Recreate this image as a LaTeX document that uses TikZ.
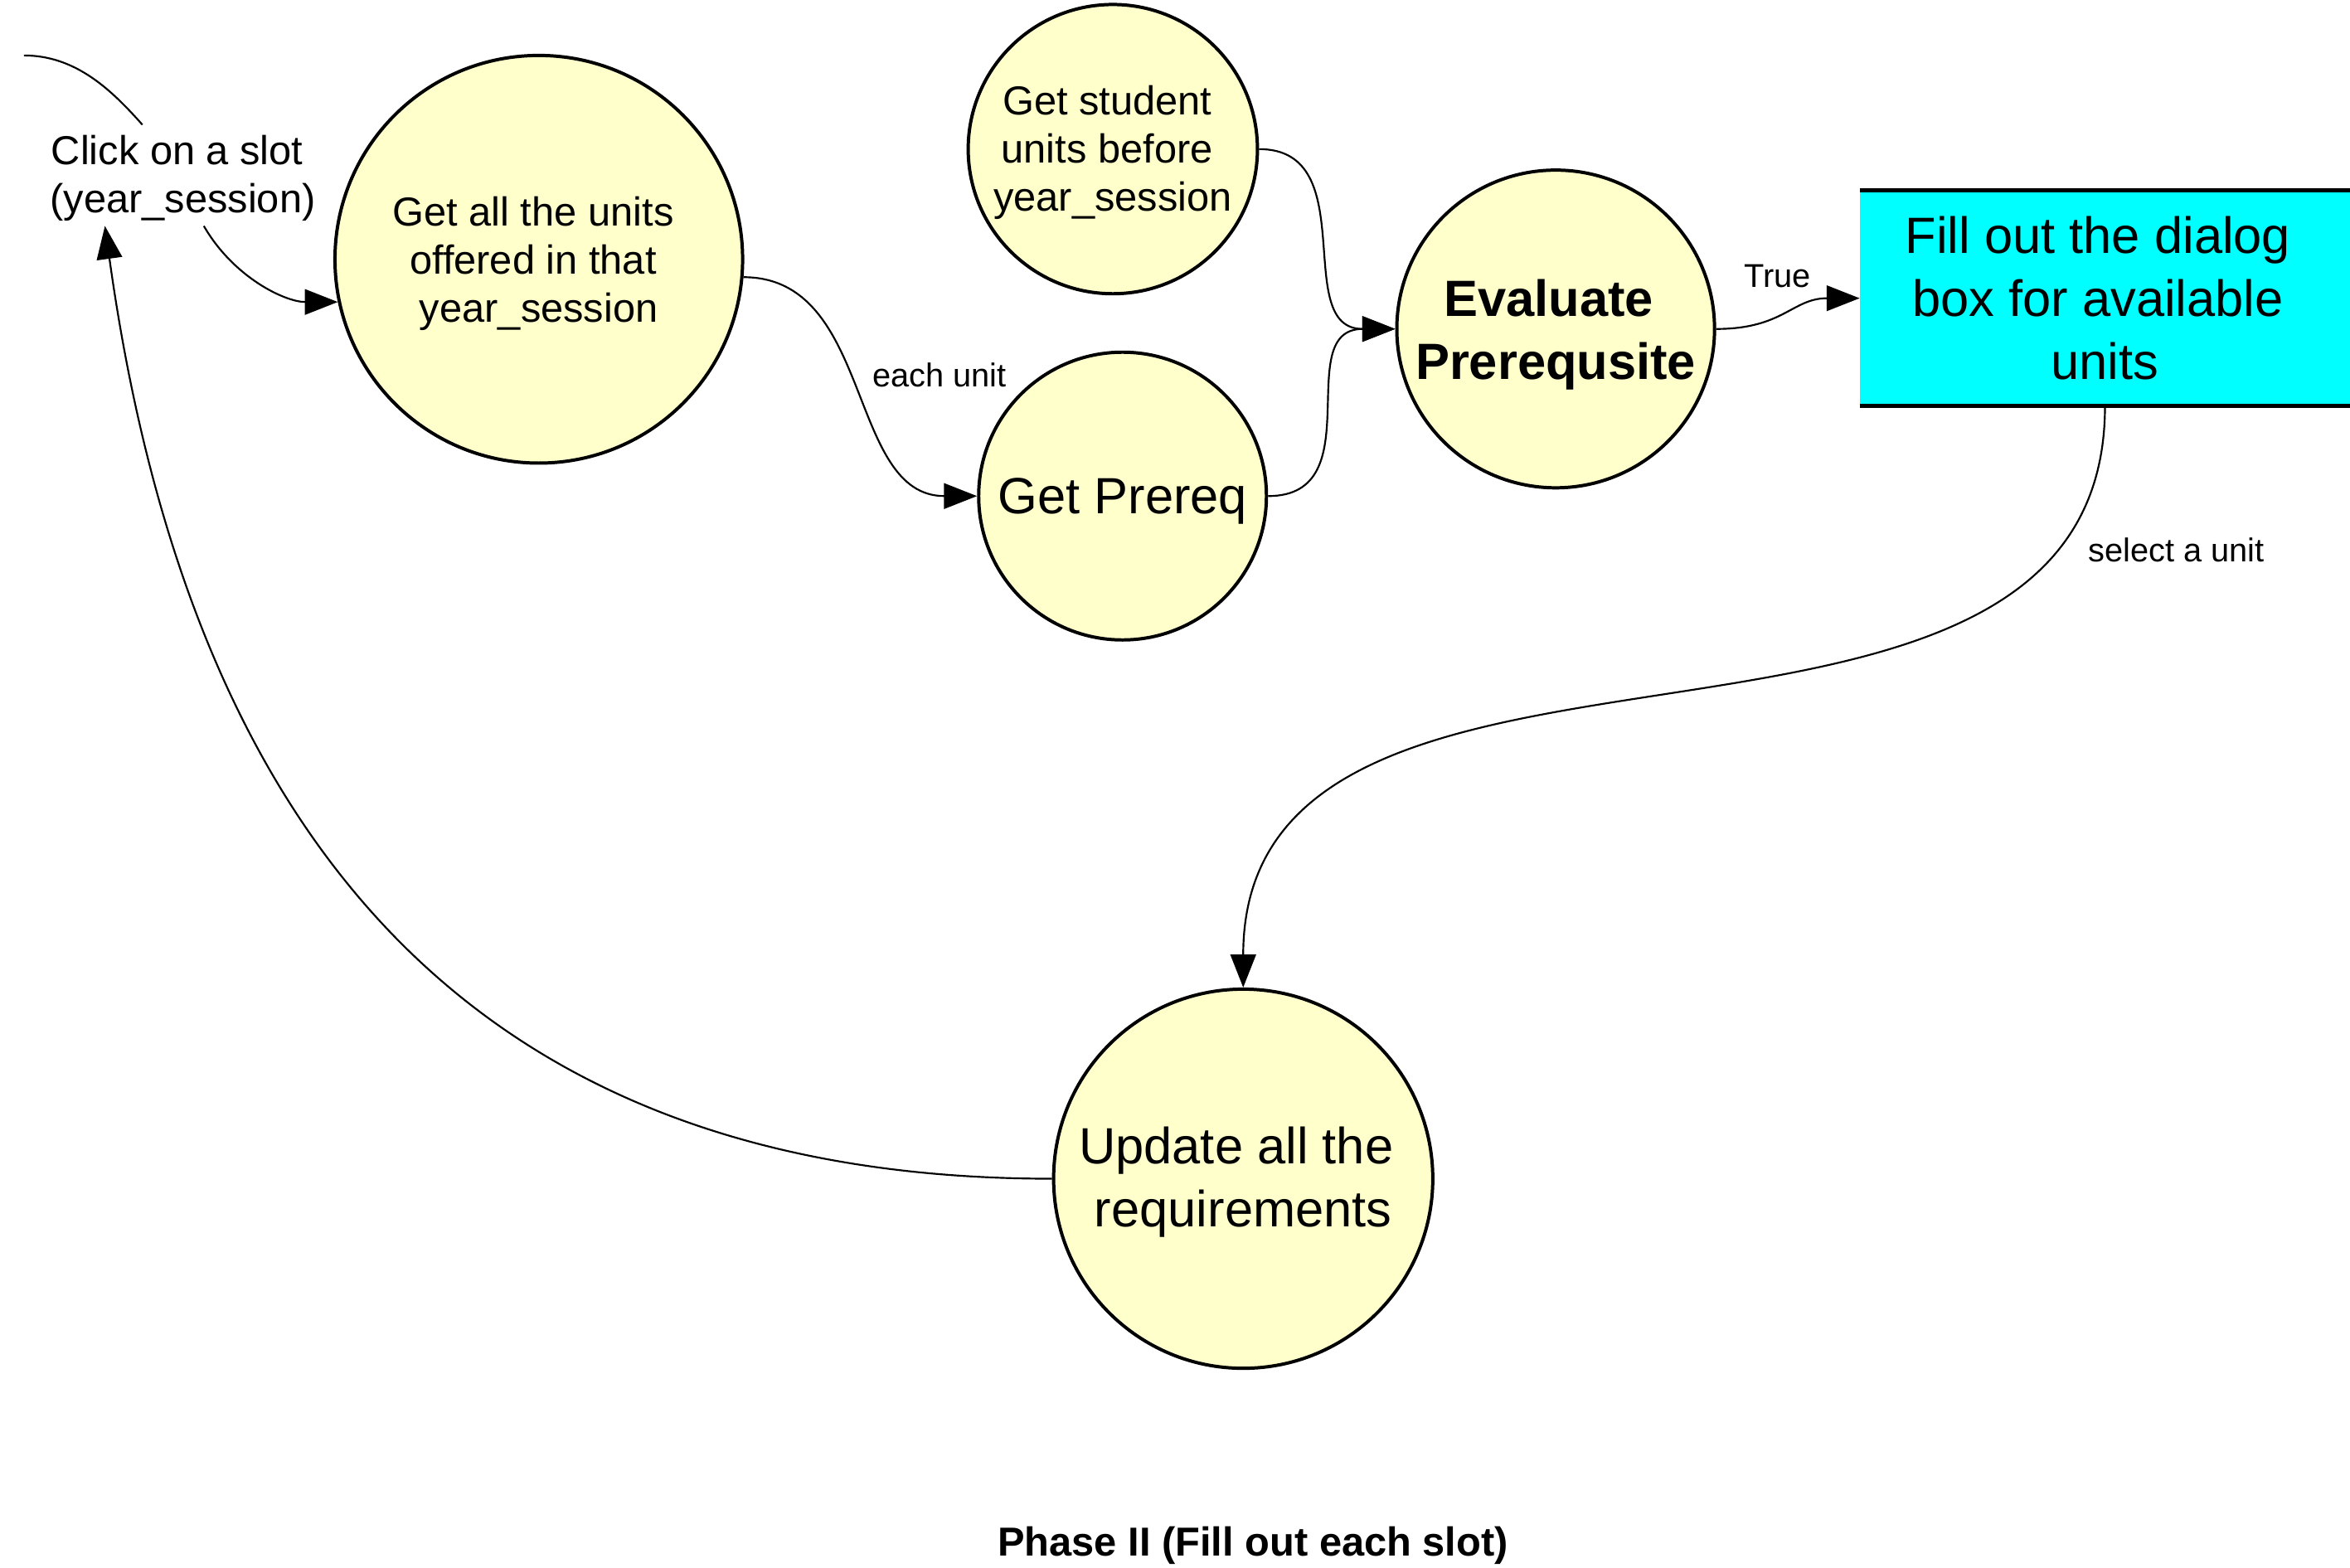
\documentclass[tikz,border=0pt]{standalone}
\usepackage{fontspec}
\setmainfont{Liberation Sans}
\usetikzlibrary{arrows.meta}
\definecolor{procfill}{HTML}{FFFFCC}
\definecolor{boxfill}{HTML}{00FFFF}
\newcommand{\trsp}{\kern0.278em}
\begin{document}
\begin{tikzpicture}[x=1pt,y=1pt,
  proc/.style={circle, draw=black, line width=2.2pt, fill=procfill, inner sep=0pt, align=center, text=black},
  txtA/.style={font=\fontsize{27}{32}\selectfont},
  txtB/.style={font=\fontsize{34}{42}\selectfont},
  lbl/.style={font=\fontsize{22}{26}\selectfont, inner sep=0pt},
  flow/.style={line width=1.2pt, -{Triangle[length=22pt,width=17pt]}},
  plain/.style={line width=1.2pt},
  edgebar/.style={line width=2.8pt},
]
\useasboundingbox (0,0) rectangle (1568,-1046);

% nodes
\node[txtA, align=center, inner sep=0pt] (click) at (122,-119) {Click on a slot\trsp\\(year\_session)};
\node[proc, txtA, minimum size=272pt] (units) at (359.5,-173) {\rule{0pt}{25pt}Get all the units\trsp\\offered in that\trsp\\year\_session};
\node[proc, txtA, minimum size=193pt] (student) at (742.5,-99.5) {\rule{0pt}{24pt}Get student\trsp\\units before\trsp\\year\_session};
\node[proc, txtB, minimum size=192pt] (prereq) at (749,-331) {\rule{0pt}{31pt}Get Prereq};
\node[proc, font=\fontsize{34}{42}\selectfont\bfseries, minimum size=212pt] (eval) at (1038,-219.5) {\rule{0pt}{32pt}Evaluate\trsp\\Prerequsite};
\node[fill=boxfill, minimum width=327pt, minimum height=143.5pt, inner sep=0pt, align=center, txtB] (dialog) at (1404.5,-199) {Fill out the dialog\trsp\\box for available\trsp\\units};
\draw[edgebar] (dialog.north west) -- (dialog.north east);
\draw[edgebar] (dialog.south west) -- (dialog.south east);
\node[proc, txtB, minimum size=253pt] (update) at (829.5,-786.5) {\rule{0pt}{29pt}Update all the\trsp\\requirements};

% labels
\node[lbl] (leach) at (627,-250) {each unit};
\node[lbl] (ltrue) at (1186,-184) {True};
\node[lbl] (lsel) at (1452,-367) {select a unit};
\node[font=\fontsize{27}{32}\selectfont\bfseries, inner sep=0pt] (title) at (836,-1031) {Phase II (Fill out each slot)};

% connectors
\coordinate (src) at (16,-37);
\draw[plain] (src) .. controls +(35,0) and +(-20,22.5) .. ([xshift=-27pt,yshift=7pt]click.north);
\draw[flow] ([xshift=14pt,yshift=-3pt]click.south) .. controls +(20,-34.6) and +(-35,0) .. (units.192);
\draw[flow] (units.-5) .. controls +(87,0) and +(-87,0) .. (prereq.west);
\draw[flow] (student.east) .. controls +(70,0) and +(-70,0) .. (eval.west);
\draw[flow] (prereq.east) .. controls +(70,0) and +(-70,0) .. (eval.west);
\draw[flow] (eval.east) .. controls +(45,0) and +(-45,0) .. (dialog.west);
\draw[flow] (dialog.south) .. controls +(0,-288) and +(0,288) .. (update.north);
\draw[flow] (update.west) .. controls +(-380,0) and +(58,-416) .. ([xshift=-52pt,yshift=-3pt]click.south);
\end{tikzpicture}
\end{document}
